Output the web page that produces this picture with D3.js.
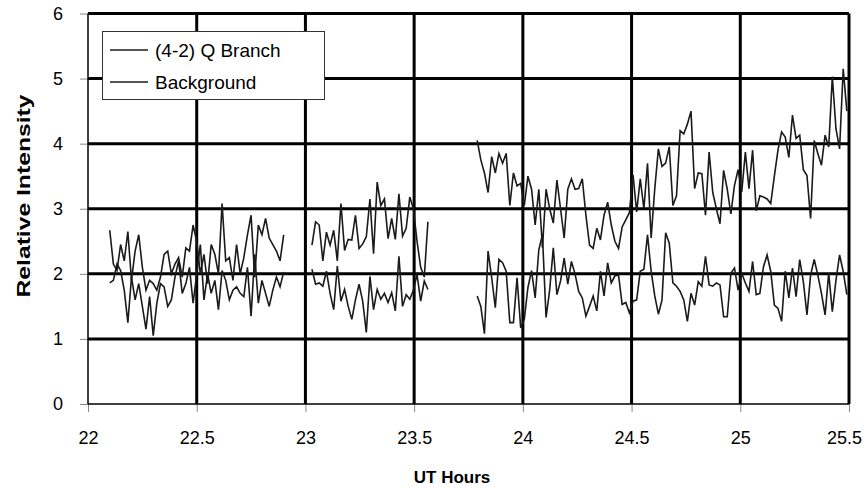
<!DOCTYPE html>
<html>
<head>
<meta charset="utf-8">
<script src="https://cdn.jsdelivr.net/npm/d3@7"></script>
<style>
  body { margin: 0; background: #fff; }
  text { font-family: "Liberation Sans", Arial, sans-serif; fill: #000; }
</style>
</head>
<body>
<svg id="chart" width="864" height="489"></svg>
<script>
const xTicks = [22, 22.5, 23, 23.5, 24, 24.5, 25, 25.5];
const yTicks = [0, 1, 2, 3, 4, 5, 6];
const seriesNames = ["(4-2) Q Branch", "Background"];

// each run of samples starts here (UT hours), one sample per minute
const segmentStarts = [22.1, 23.03, 23.79];
const sampleStep = 1 / 60;

const qBranch1 = [2.67, 2.15, 2.05, 2.45, 2.2, 2.65, 1.9, 2.35, 2.6, 2.1,
  1.75, 1.9, 1.85, 1.75, 1.95, 2.3, 2.35, 2.0, 2.15, 2.25,
  1.95, 2.4, 2.35, 2.75, 2.5, 2.0, 2.3, 1.85, 2.45, 2.3,
  2.0, 3.08, 2.2, 2.25, 1.9, 2.45, 2.0, 2.25, 2.6, 2.9,
  1.95, 2.75, 2.6, 2.85, 2.55, 2.45, 2.35, 2.2, 2.6];
const qBranch2 = [2.44, 2.8, 2.75, 2.2, 2.64, 2.44, 2.67, 2.2, 3.08, 2.36,
  2.53, 2.52, 2.9, 2.39, 2.46, 2.57, 3.15, 2.31, 3.41, 3.05,
  3.15, 2.54, 2.85, 2.53, 3.23, 2.58, 2.7, 3.18, 3.0, 2.5,
  2.1, 1.95, 2.8];
const qBranch3 = [4.05, 3.75, 3.55, 3.25, 3.8, 3.55, 3.85, 3.7, 3.85, 3.05,
  3.55, 3.35, 3.39, 3.05, 3.5, 3.3, 2.75, 3.3, 2.4, 3.3,
  3.0, 2.78, 3.44, 3.0, 2.55, 3.3, 3.46, 3.3, 3.31, 3.46,
  2.9, 2.44, 2.39, 2.7, 2.52, 2.9, 3.1, 2.75, 2.5, 2.39,
  2.72, 2.83, 2.94, 3.52, 2.95, 3.46, 3.0, 3.7, 2.55, 3.31, 3.92,
  3.65, 3.7, 3.95, 3.05, 3.2, 4.2, 4.15, 4.3, 4.5, 3.31,
  3.55, 3.54, 2.9, 3.87, 3.25, 3.0, 2.77, 3.59, 3.3, 2.92,
  3.36, 3.6, 3.26, 3.87, 3.31, 3.9, 2.97, 3.2, 3.18, 3.15,
  3.08, 3.5, 3.9, 4.18, 4.1, 3.79, 4.44, 4.08, 4.13, 3.6,
  3.51, 2.85, 4.05, 3.85, 3.67, 4.13, 3.95, 5.03, 4.23, 3.92, 5.15, 4.5];

const background1 = [1.86, 1.9, 2.15, 2.05, 1.75, 1.25, 1.95, 1.6, 1.85, 1.5,
  1.15, 1.65, 1.05, 1.55, 1.85, 1.8, 1.5, 1.6, 1.95, 2.2,
  1.7, 1.85, 2.1, 1.55, 2.0, 2.45, 1.6, 2.0, 1.7, 1.9,
  1.45, 2.05, 1.9, 1.6, 1.75, 1.8, 1.7, 1.65, 2.1, 1.35,
  2.3, 1.55, 1.9, 1.7, 1.5, 1.75, 1.95, 1.8, 2.03];
const background2 = [2.07, 1.84, 1.86, 1.81, 2.04, 1.7, 1.45, 2.12, 1.58, 1.76,
  1.5, 1.3, 1.6, 1.84, 1.58, 1.1, 1.96, 1.45, 1.76, 1.61,
  1.7, 1.56, 1.71, 1.43, 2.27, 1.5, 1.68, 1.61, 1.75, 1.99,
  1.58, 1.89, 1.76];
const background3 = [1.66, 1.5, 1.08, 2.35, 1.94, 1.48, 2.22, 2.17, 2.04, 1.25,
  1.25, 1.94, 1.17, 1.3, 1.79, 2.05, 1.63, 2.37, 2.6, 1.33,
  1.75, 2.4, 1.68, 1.89, 2.24, 1.84, 2.19, 2.0, 1.73, 1.63,
  1.35, 1.5, 1.66, 1.43, 2.04, 1.66, 2.17, 1.86, 1.97, 1.98,
  1.53, 1.56, 1.4, 1.58, 1.6, 2.04, 2.07, 2.6, 2.04, 1.66, 1.38,
  1.6, 2.63, 2.47, 1.86, 1.81, 1.73, 1.6, 1.27, 1.7, 1.52,
  1.88, 1.81, 2.27, 1.83, 1.81, 1.86, 1.83, 1.34, 1.34, 2.01,
  2.09, 1.75, 2.01, 1.86, 1.73, 2.19, 1.68, 1.7, 2.11, 2.29,
  2.04, 1.52, 1.47, 1.27, 2.04, 1.63, 2.09, 1.65, 2.22, 1.88,
  1.37, 1.98, 2.22, 1.98, 1.7, 1.37, 2.01, 1.42, 1.9, 2.29, 2.04, 1.68];

const series = [
  [qBranch1, qBranch2, qBranch3],
  [background1, background2, background3]
];

const width = 864, height = 489;
const margin = {top: 13.5, right: 15, bottom: 85, left: 88};

const x = d3.scaleLinear()
  .domain([22, 25.5])
  .range([margin.left, width - margin.right]);

const y = d3.scaleLinear()
  .domain([0, 6])
  .range([height - margin.bottom, margin.top]);

const svg = d3.select("#chart");

// grid (thick black lines, top and right border included)
svg.append("g")
  .selectAll("line")
  .data(xTicks.slice(1))
  .join("line")
    .attr("x1", d => x(d)).attr("x2", d => x(d))
    .attr("y1", y(0)).attr("y2", y(6))
    .attr("stroke", "#000")
    .attr("stroke-width", 3);

svg.append("g")
  .selectAll("line")
  .data(yTicks.slice(1))
  .join("line")
    .attr("x1", x(22)).attr("x2", x(25.5))
    .attr("y1", d => y(d)).attr("y2", d => y(d))
    .attr("stroke", "#000")
    .attr("stroke-width", 3);

// axes
function yAxis(g) {
  return g
    .attr("transform", `translate(${margin.left},0)`)
    .call(d3.axisLeft(y).tickValues(yTicks).tickSize(8).tickPadding(17).tickFormat(d3.format("d")))
    .call(g => g.select(".domain").remove())
    .call(g => g.selectAll(".tick line").attr("stroke", "#888"))
    .call(g => g.selectAll(".tick text").attr("font-size", 18).attr("font-family", null));
}

function xAxis(g) {
  return g
    .attr("transform", `translate(0,${height - margin.bottom})`)
    .call(d3.axisBottom(x).tickValues(xTicks).tickSize(8).tickPadding(19).tickFormat(d => d))
    .call(g => g.select(".domain").remove())
    .call(g => g.selectAll(".tick line").attr("stroke", "#888"))
    .call(g => g.selectAll(".tick text").attr("font-size", 18).attr("font-family", null))
    .call(g => g.selectAll(".tick text").filter(d => d === 25.5).attr("dx", -5));
}

svg.append("g").call(yAxis);
svg.append("g").call(xAxis);

svg.append("line")
  .attr("x1", x(22)).attr("x2", x(22))
  .attr("y1", y(0)).attr("y2", y(6))
  .attr("stroke", "#000").attr("stroke-width", 1.5);
svg.append("line")
  .attr("x1", x(22)).attr("x2", x(25.5))
  .attr("y1", y(0)).attr("y2", y(0))
  .attr("stroke", "#000").attr("stroke-width", 1.5);

// data
const segments = series.flatMap(runs =>
  runs.map((values, i) => values.map((v, k) => [segmentStarts[i] + k * sampleStep, v])));

const line = d3.line()
  .x(d => x(d[0]))
  .y(d => y(d[1]));

svg.append("g")
  .attr("fill", "none")
  .attr("stroke", "#1a1a1a")
  .attr("stroke-width", 1.6)
  .selectAll("path")
  .data(segments)
  .join("path")
    .attr("d", line);

// legend
const legend = svg.append("g");
legend.append("rect")
  .attr("x", 102.5).attr("y", 31.5)
  .attr("width", 222).attr("height", 68)
  .attr("fill", "#fff")
  .attr("stroke", "#333")
  .attr("stroke-width", 1);

const item = legend.selectAll("g")
  .data(seriesNames)
  .join("g")
    .attr("transform", (d, i) => `translate(110,${50 + i * 32})`);

item.append("line")
  .attr("x1", 0).attr("x2", 38)
  .attr("stroke", "#1a1a1a")
  .attr("stroke-width", 1.6);

item.append("text")
  .attr("x", 45)
  .attr("y", 6.5)
  .attr("font-size", 19)
  .text(d => d);

// titles
svg.append("text")
  .attr("x", 452)
  .attr("y", 483)
  .attr("text-anchor", "middle")
  .attr("font-size", 17)
  .attr("font-weight", "bold")
  .text("UT Hours");

svg.append("text")
  .attr("transform", "translate(30,196) rotate(-90) scale(1.3,1)")
  .attr("text-anchor", "middle")
  .attr("font-size", 19)
  .attr("font-weight", "bold")
  .text("Relative Intensity");
</script>
</body>
</html>
